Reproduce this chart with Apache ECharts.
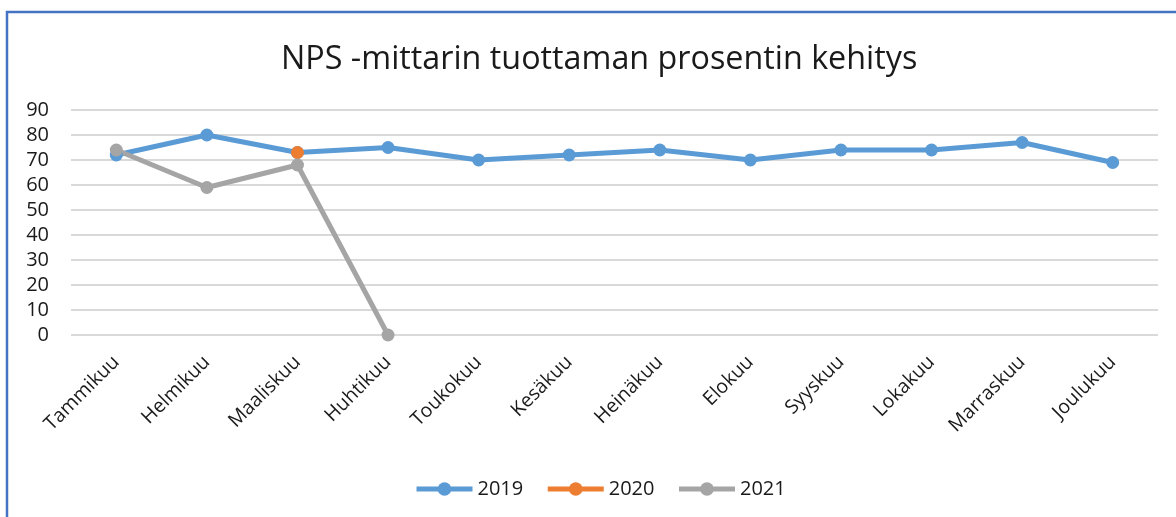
<!DOCTYPE html>
<html>
<head>
<meta charset="utf-8">
<script src="https://cdn.jsdelivr.net/npm/echarts@6/dist/echarts.min.js"></script>
<style>
html,body{margin:0;padding:0;background:#fff;}
#chart{width:1176px;height:517px;}
</style>
</head>
<body>
<div id="chart"></div>
<script>
const months = ['Tammikuu','Helmikuu','Maaliskuu','Huhtikuu','Toukokuu','Kesäkuu','Heinäkuu','Elokuu','Syyskuu','Lokakuu','Marraskuu','Joulukuu'];
const s2019 = [72, 80, 73, 75, 70, 72, 74, 70, 74, 74, 77, 69];
const s2020 = [null, null, 73, null, null, null, null, null, null, null, null, null];
const s2021 = [74, 59, 68, 0, null, null, null, null, null, null, null, null];
const yTicks = [0, 10, 20, 30, 40, 50, 60, 70, 80, 90];

const FONT = '"Open Sans", "Noto Sans", sans-serif';
const chart = echarts.init(document.getElementById('chart'), null, {renderer: 'canvas'});
function mk(name, data, color) {
  return {
    name: name, type: 'line', data: data,
    symbol: 'circle', symbolSize: 13,
    lineStyle: {width: 5, color: color},
    itemStyle: {color: color},
    connectNulls: false,
    animation: false
  };
}
chart.setOption({
  animation: false,
  title: {
    text: 'NPS -mittarin tuottaman prosentin kehitys',
    left: 276, top: 39,
    textStyle: {fontFamily: FONT, fontSize: 32.3, fontWeight: 'normal', color: '#1a1a1a'}
  },
  graphic: [{
    type: 'rect', shape: {x: 7, y: 12, width: 1200, height: 600},
    style: {fill: 'none', stroke: '#4472C4', lineWidth: 2.5}, silent: true
  }],
  grid: {left: 71, right: 18, top: 110, bottom: 182, containLabel: false},
  legend: {
    data: ['2019', '2020', '2021'],
    bottom: 13, left: 409,
    itemWidth: 56, itemHeight: 17, itemGap: 22,
    lineStyle: {width: 5},
    textStyle: {fontFamily: FONT, fontSize: 20, color: '#1a1a1a'}
  },
  xAxis: {
    type: 'category', data: months, boundaryGap: true,
    axisLine: {show: false}, axisTick: {show: false},
    axisLabel: {rotate: 45, fontFamily: FONT, fontSize: 19.5, color: '#1a1a1a', margin: 24, interval: 0}
  },
  yAxis: {
    type: 'value', min: 0, max: 90, interval: 10,
    axisLine: {show: false}, axisTick: {show: false},
    axisLabel: {fontFamily: FONT, fontSize: 20, color: '#1a1a1a', margin: 22,
      formatter: v => yTicks.includes(v) ? String(v) : ''},
    splitLine: {lineStyle: {color: '#D9D9D9', width: 2}}
  },
  series: [
    mk('2019', s2019, '#5B9BD5'),
    mk('2020', s2020, '#ED7D31'),
    mk('2021', s2021, '#A5A5A5')
  ]
});
</script>
</body>
</html>
